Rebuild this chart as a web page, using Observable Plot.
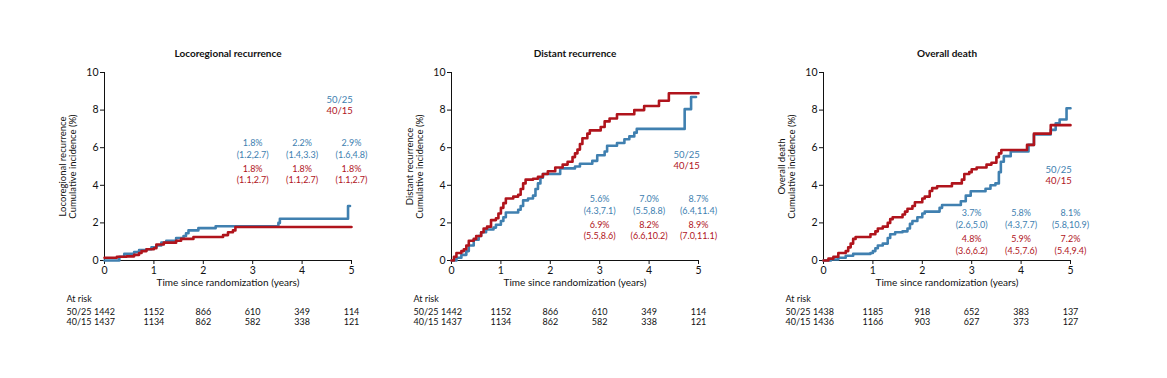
<!DOCTYPE html>
<html><head><meta charset="utf-8">
<script src="https://cdn.jsdelivr.net/npm/d3@7"></script>
<script src="https://cdn.jsdelivr.net/npm/@observablehq/plot@0.6"></script>
<style>
body{margin:0;background:#fff;}
#wrap{position:relative;width:1167px;height:378px;background:#fff;}
.panel{position:absolute;top:0;}
</style></head><body><div id="wrap"></div>
<script>
// ---------- data ----------
const years = [0, 1, 2, 3, 4, 5];
const yTicks = [0, 2, 4, 6, 8, 10];
const arms = ["50/25", "40/15"];
const titles = ["Locoregional recurrence", "Distant recurrence", "Overall death"];
const yLabels = ["Locoregional recurrence", "Distant recurrence", "Overall death"];
const yLabel2 = "Cumulative incidence (%)";
const xLabel = "Time since randomization (years)";

// cumulative incidence step curves [years, %]
const locoBlue = [[0,0],[0.3,0.2],[0.4,0.35],[0.6,0.45],[0.7,0.55],[0.85,0.6],[0.95,0.7],[1.05,0.8],[1.15,0.95],[1.25,1.05],[1.45,1.2],[1.6,1.3],[1.65,1.45],[1.7,1.6],[1.9,1.72],[2.25,1.82],[3.52,2.0],[3.55,2.22],[4.93,2.9],[4.97,2.9]];
const locoRed = [[0,0.15],[0.25,0.2],[0.45,0.22],[0.6,0.3],[0.7,0.4],[0.75,0.5],[0.85,0.6],[1.0,0.65],[1.05,0.85],[1.2,0.95],[1.45,1.05],[1.55,1.15],[1.8,1.25],[2.4,1.35],[2.5,1.5],[2.6,1.6],[2.65,1.78],[5.0,1.78]];
const distBlue = [[0,0],[0.1,0.15],[0.2,0.3],[0.3,0.5],[0.35,0.8],[0.45,1.1],[0.55,1.3],[0.6,1.5],[0.7,1.65],[0.85,1.75],[0.9,1.9],[1.0,2.1],[1.05,2.3],[1.1,2.55],[1.35,2.7],[1.4,2.9],[1.45,3.2],[1.55,3.3],[1.65,3.45],[1.7,3.8],[1.75,4.1],[1.8,4.4],[1.85,4.6],[2.2,4.9],[2.5,5.0],[2.6,5.15],[2.85,5.3],[2.95,5.6],[3.1,5.8],[3.15,6.1],[3.35,6.25],[3.5,6.45],[3.6,6.6],[3.7,6.8],[3.75,7.0],[4.72,8.05],[4.85,8.7],[4.95,8.7]];
const distRed = [[0,0],[0.05,0.2],[0.1,0.4],[0.2,0.5],[0.25,0.6],[0.3,0.8],[0.35,1.05],[0.45,1.15],[0.5,1.3],[0.6,1.5],[0.65,1.7],[0.72,1.8],[0.8,2.15],[0.9,2.25],[0.95,2.5],[1.0,2.8],[1.05,3.05],[1.1,3.3],[1.25,3.4],[1.35,3.5],[1.4,3.8],[1.45,4.1],[1.5,4.3],[1.65,4.35],[1.75,4.45],[1.85,4.6],[1.95,4.75],[2.1,4.95],[2.25,5.1],[2.35,5.25],[2.45,5.5],[2.5,5.7],[2.55,5.9],[2.6,6.2],[2.65,6.5],[2.75,6.75],[2.8,6.92],[3.02,7.1],[3.1,7.4],[3.2,7.55],[3.35,7.78],[3.7,8.0],[3.9,8.22],[4.2,8.5],[4.4,8.9],[5.0,8.9]];
const deathBlue = [[0,0],[0.15,0.05],[0.3,0.15],[0.45,0.25],[0.6,0.35],[0.95,0.4],[1.0,0.5],[1.05,0.65],[1.1,0.8],[1.2,0.9],[1.3,1.2],[1.35,1.4],[1.45,1.5],[1.6,1.55],[1.7,1.7],[1.75,1.95],[1.8,2.1],[1.9,2.3],[2.0,2.5],[2.05,2.6],[2.35,2.8],[2.4,2.95],[2.78,3.15],[2.88,3.45],[2.98,3.68],[3.28,3.82],[3.38,4.0],[3.48,4.1],[3.55,4.7],[3.59,5.25],[3.65,5.55],[3.79,5.8],[4.15,6.15],[4.26,6.7],[4.6,6.95],[4.7,7.3],[4.78,7.5],[4.92,8.1],[5.0,8.1]];
const deathRed = [[0,0],[0.1,0.1],[0.2,0.2],[0.3,0.4],[0.45,0.5],[0.5,0.7],[0.55,0.9],[0.6,1.15],[0.65,1.25],[0.95,1.4],[1.05,1.55],[1.1,1.7],[1.2,1.8],[1.3,2.0],[1.35,2.2],[1.4,2.3],[1.6,2.45],[1.65,2.6],[1.7,2.75],[1.8,2.9],[1.85,3.1],[2.0,3.3],[2.05,3.4],[2.15,3.7],[2.2,3.85],[2.3,3.95],[2.6,4.1],[2.8,4.3],[2.85,4.6],[2.95,4.7],[3.0,4.85],[3.1,4.95],[3.3,5.1],[3.4,5.2],[3.5,5.5],[3.55,5.7],[3.6,5.88],[4.12,6.15],[4.26,6.75],[4.6,7.2],[5.0,7.2]];

// point estimates and 95% CI at 3, 4, 5 years
const estYears = [3, 4, 5];
const locoBlueEst = ["1.8%", "2.2%", "2.9%"];
const locoBlueCI = ["(1.2,2.7)", "(1.4,3.3)", "(1.6,4.8)"];
const locoRedEst = ["1.8%", "1.8%", "1.8%"];
const locoRedCI = ["(1.1,2.7)", "(1.1,2.7)", "(1.1,2.7)"];
const distBlueEst = ["5.6%", "7.0%", "8.7%"];
const distBlueCI = ["(4.3,7.1)", "(5.5,8.8)", "(6.4,11.4)"];
const distRedEst = ["6.9%", "8.2%", "8.9%"];
const distRedCI = ["(5.5,8.6)", "(6.6,10.2)", "(7.0,11.1)"];
const deathBlueEst = ["3.7%", "5.8%", "8.1%"];
const deathBlueCI = ["(2.6,5.0)", "(4.3,7.7)", "(5.8,10.9)"];
const deathRedEst = ["4.8%", "5.9%", "7.2%"];
const deathRedCI = ["(3.6,6.2)", "(4.5,7.6)", "(5.4,9.4)"];

// numbers at risk
const atRiskLabel = "At risk";
const riskLocoBlue = [1442, 1152, 866, 610, 349, 114];
const riskLocoRed = [1437, 1134, 862, 582, 338, 121];
const riskDistBlue = [1442, 1152, 866, 610, 349, 114];
const riskDistRed = [1437, 1134, 862, 582, 338, 121];
const riskDeathBlue = [1438, 1185, 918, 652, 383, 137];
const riskDeathRed = [1436, 1166, 903, 627, 373, 127];

// ---------- layout / style ----------
const BLUE = "#4080b0", RED = "#b0141c", INK = "#111";
const FONT = "Lato, 'Open Sans', sans-serif";
const layout = [
  {left: 0,   ml: 104, mr: 38, estY: 6.25, legY: 8.54},
  {left: 389, ml: 62,  mr: 80, estY: 3.27, legY: 5.6},
  {left: 778, ml: 45,  mr: 97, estY: 2.5,  legY: 4.81}
];
const panels = [
  {blue: locoBlue, red: locoRed, bE: locoBlueEst, bC: locoBlueCI, rE: locoRedEst, rC: locoRedCI, rb: riskLocoBlue, rr: riskLocoRed},
  {blue: distBlue, red: distRed, bE: distBlueEst, bC: distBlueCI, rE: distRedEst, rC: distRedCI, rb: riskDistBlue, rr: riskDistRed},
  {blue: deathBlue, red: deathRed, bE: deathBlueEst, bC: deathBlueCI, rE: deathRedEst, rC: deathRedCI, rb: riskDeathBlue, rr: riskDeathRed}
];

const wrap = document.getElementById("wrap");
panels.forEach((P, i) => {
  const L = layout[i];
  const estText = (arr, dy, fill) => Plot.text(estYears, {
    x: d => d, y: () => L.estY, text: (d, k) => arr[k], dy, fill, fontSize: 9, textAnchor: "middle"
  });
  const riskRow = (arr, dy) => Plot.text(years, {
    x: d => d, text: (d, k) => String(arr[k]), frameAnchor: "bottom", dy, fontSize: 9, fill: INK, textAnchor: "middle"
  });
  const rowLabel = (s, dy) => Plot.text([s], {
    text: d => d, frameAnchor: "bottom-left", dx: -38, dy, textAnchor: "start", fontSize: 9, fill: INK
  });
  const chart = Plot.plot({
    width: 389, height: 340,
    marginLeft: L.ml, marginRight: L.mr, marginTop: 72, marginBottom: 80,
    style: {fontFamily: FONT, fontSize: "10px", color: INK, background: "transparent", overflow: "visible"},
    x: {domain: [0, 5], label: null},
    y: {domain: [0, 10], label: null},
    marks: [
      Plot.axisX({ticks: years, tickFormat: d => String(d), tickSize: 4, tickPadding: 2, label: null, fontSize: 10.5}),
      Plot.axisY({ticks: yTicks, tickFormat: d => String(d), tickSize: 4, tickPadding: 2, label: null, fontSize: 10.5}),
      Plot.ruleY([0], {stroke: INK, strokeWidth: 1}),
      Plot.ruleX([0], {stroke: INK, strokeWidth: 1}),
      Plot.line(P.blue, {x: d => d[0], y: d => d[1], curve: "step-after", stroke: BLUE, strokeWidth: 2.6}),
      Plot.line(P.red, {x: d => d[0], y: d => d[1], curve: "step-after", stroke: RED, strokeWidth: 2.6}),
      estText(P.bE, 0, BLUE),
      estText(P.bC, 12, BLUE),
      estText(P.rE, 26, RED),
      estText(P.rC, 37.5, RED),
      Plot.text([arms[0]], {x: () => 4.76, y: () => L.legY, text: d => d, fill: BLUE, fontSize: 9.5}),
      Plot.text([arms[1]], {x: () => 4.76, y: () => L.legY, text: d => d, dy: 11, fill: RED, fontSize: 9.5}),
      Plot.text([titles[i]], {text: d => d, frameAnchor: "top", dy: -23, fontWeight: "bold", fontSize: 10, fill: INK}),
      Plot.text([yLabels[i] + "\n" + yLabel2], {text: d => d, frameAnchor: "left", textAnchor: "middle", rotate: -90, dx: -37, lineHeight: 1.15, fontSize: 9.5, fill: INK}),
      Plot.text([xLabel], {text: d => d, frameAnchor: "bottom", textAnchor: "middle", dy: 25, fontSize: 10, fill: INK}),
      rowLabel(atRiskLabel, 41),
      rowLabel(arms[0], 54),
      rowLabel(arms[1], 64),
      riskRow(P.rb, 54),
      riskRow(P.rr, 64)
    ]
  });
  const div = document.createElement("div");
  div.className = "panel";
  div.style.left = L.left + "px";
  div.appendChild(chart);
  wrap.appendChild(div);
});
</script></body></html>
